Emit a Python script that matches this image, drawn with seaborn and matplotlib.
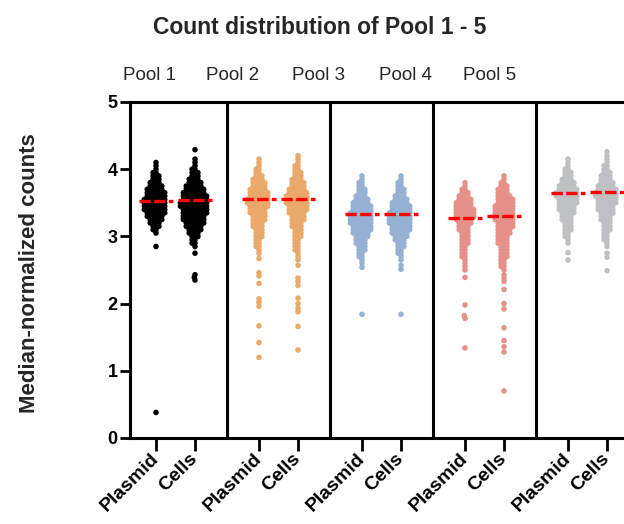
import warnings
warnings.filterwarnings("ignore")
import numpy as np
import pandas as pd
import matplotlib
matplotlib.use("Agg")
import matplotlib.pyplot as plt
import seaborn as sns

# ---------------- data ----------------
pools = ["Pool 1", "Pool 2", "Pool 3", "Pool 4", "Pool 5"]
samples = ["Plasmid", "Cells"]
pool_colors = ["#000000", "#EAA86A", "#97B1D4", "#E5918A", "#BEC0C2"]
bin_step = 0.05

# dense body of each swarm: lowest value + number of dots in each 0.05 row
p1_plasmid_lo = 3.05
p1_plasmid_counts = [1, 2, 3, 4, 5, 6, 7, 8, 8, 8, 8, 7, 7, 6, 5, 4, 3, 3, 2, 1, 1, 1]
p1_plasmid_out = [2.85, 0.38]
p1_cells_lo = 2.85
p1_cells_counts = [1, 2, 2, 3, 4, 5, 6, 7, 8, 8, 9, 9, 10, 10, 9, 9, 8, 7, 6, 5, 4, 3, 3, 2, 1, 1, 1]
p1_cells_out = [4.29, 2.75, 2.43, 2.39, 2.35]

p2_plasmid_lo = 2.75
p2_plasmid_counts = [1, 1, 2, 2, 2, 3, 3, 3, 4, 4, 5, 5, 6, 6, 7, 8, 8, 7, 7, 6, 5, 5, 4, 3, 2, 2, 1, 1, 1]
p2_plasmid_out = [2.67, 2.46, 2.41, 2.30, 2.07, 2.02, 1.96, 1.67, 1.42, 1.20]
p2_cells_lo = 2.65
p2_cells_counts = [1, 1, 1, 2, 2, 2, 2, 3, 3, 3, 4, 4, 5, 5, 6, 7, 7, 8, 8, 8, 7, 6, 5, 5, 4, 3, 3, 2, 2, 1, 1, 1]
p2_cells_out = [2.57, 2.38, 2.33, 2.27, 2.08, 2.00, 1.93, 1.88, 1.66, 1.31]

p3_plasmid_lo = 2.60
p3_plasmid_counts = [1, 1, 2, 2, 3, 3, 4, 4, 5, 6, 7, 7, 8, 8, 8, 8, 7, 7, 6, 5, 4, 3, 3, 2, 2, 1, 1]
p3_plasmid_out = [2.54, 1.84]
p3_cells_lo = 2.65
p3_cells_counts = [1, 1, 2, 2, 3, 3, 4, 5, 6, 7, 7, 8, 8, 8, 8, 7, 7, 6, 5, 4, 3, 3, 2, 2, 1, 1]
p3_cells_out = [2.57, 2.51, 1.84]

p4_plasmid_lo = 2.50
p4_plasmid_counts = [1, 1, 1, 1, 2, 2, 2, 2, 3, 3, 3, 3, 4, 4, 5, 6, 7, 7, 7, 6, 6, 5, 4, 3, 2, 1, 1]
p4_plasmid_out = [2.39, 1.98, 1.82, 1.78, 1.34]
p4_cells_lo = 2.50
p4_cells_counts = [1, 2, 2, 2, 3, 3, 3, 3, 4, 4, 4, 5, 5, 6, 6, 7, 7, 7, 7, 7, 6, 6, 5, 4, 4, 3, 2, 1, 1]
p4_cells_out = [2.43, 2.38, 2.33, 2.21, 2.00, 1.92, 1.64, 1.45, 1.36, 1.28, 0.70]

p5_plasmid_lo = 2.90
p5_plasmid_counts = [1, 1, 2, 2, 3, 3, 3, 4, 4, 5, 6, 6, 7, 7, 8, 8, 7, 6, 5, 4, 3, 3, 2, 1, 1, 1]
p5_plasmid_out = [2.76, 2.65]
p5_cells_lo = 2.85
p5_cells_counts = [1, 1, 2, 2, 2, 3, 3, 3, 4, 4, 5, 6, 6, 7, 7, 8, 8, 7, 6, 5, 4, 4, 3, 2, 2, 1, 1, 1]
p5_cells_out = [2.75, 2.69, 2.49, 4.26]

# medians (red dashed lines), order: P1 plasmid, P1 cells, P2 plasmid, ...
medians = [3.53, 3.54, 3.55, 3.56, 3.33, 3.33, 3.28, 3.30, 3.65, 3.66]

groups = [
    (p1_plasmid_lo, p1_plasmid_counts, p1_plasmid_out), (p1_cells_lo, p1_cells_counts, p1_cells_out),
    (p2_plasmid_lo, p2_plasmid_counts, p2_plasmid_out), (p2_cells_lo, p2_cells_counts, p2_cells_out),
    (p3_plasmid_lo, p3_plasmid_counts, p3_plasmid_out), (p3_cells_lo, p3_cells_counts, p3_cells_out),
    (p4_plasmid_lo, p4_plasmid_counts, p4_plasmid_out), (p4_cells_lo, p4_cells_counts, p4_cells_out),
    (p5_plasmid_lo, p5_plasmid_counts, p5_plasmid_out), (p5_cells_lo, p5_cells_counts, p5_cells_out),
]

# ---------------- layout positions (pixel-like x units) ----------------
pool_span = 103
sample_offset = {"Plasmid": 26, "Cells": 65}

rows = []
xpos = []
for gi, (lo, counts, outs) in enumerate(groups):
    pi, si = divmod(gi, 2)
    x = pi * pool_span + sample_offset[samples[si]]
    xpos.append(x)
    body = np.repeat(np.round(lo + bin_step * np.arange(len(counts)), 3), counts)
    vals = np.concatenate([body, np.array(outs, dtype=float)])
    for v in vals:
        rows.append({"x": x, "value": v, "pool": pools[pi]})
df = pd.DataFrame(rows)

# ---------------- figure ----------------
sns.set_style("ticks")
plt.rcParams["font.family"] = ["Liberation Sans", "DejaVu Sans"]

W, H = 624, 524
fig = plt.figure(figsize=(W / 100, H / 100), dpi=100)
ax = fig.add_axes([130 / W, 1 - 438 / H, (W - 130) / W, (438 - 102) / H])

layout_size = 2.0   # marker size used by the swarm layout
render_size = 4.0   # marker size drawn (dots overlap like the original)

sns.swarmplot(data=df, x="x", y="value", hue="pool", hue_order=pools,
              palette=dict(zip(pools, pool_colors)), native_scale=True,
              size=layout_size, linewidth=0, legend=False, ax=ax, zorder=3)

ax.set_xlim(0, W - 130)
ax.set_ylim(0, 5)

# medians
for x, m in zip(xpos, medians):
    ax.hlines(m, x - 17, x + 17, colors="#FF0000", lw=2.4,
              linestyles=(0, (3.4, 1.0)), zorder=5)

# dividers between pools
for pi in range(1, len(pools)):
    ax.axvline(pi * pool_span - 6, color="black", lw=2.2, zorder=4)

for side in ["left", "bottom", "top"]:
    ax.spines[side].set_linewidth(2.2)
    ax.spines[side].set_color("black")
ax.spines["right"].set_visible(False)

ax.set_yticks([0, 1, 2, 3, 4, 5])
ax.set_yticklabels(["0", "1", "2", "3", "4", "5"], fontsize=13, fontweight="bold")
ax.set_xticks(xpos)
ax.set_xticklabels([samples[i % 2] for i in range(len(xpos))], fontsize=14,
                   fontweight="bold", rotation=45, ha="right", va="center",
                   rotation_mode="anchor")
ax.tick_params(axis="y", length=7, width=2, pad=2, colors="black")
ax.tick_params(axis="x", length=9, width=2, pad=4, colors="black")
ax.set_xlabel("")
ax.set_ylabel("")

fig.text(30 / W, 1 - 273 / H, "Median-normalized counts", rotation=90,
         ha="center", va="center", fontsize=16, fontweight="bold")
fig.text(320 / W, 1 - 27 / H, "Count distribution of Pool 1 - 5",
         ha="center", va="center", fontsize=16.5, fontweight="bold")
for name, cx in zip(pools, [149.5, 233, 319, 405.5, 490]):
    fig.text(cx / W, 1 - 76 / H, name, ha="center", va="center", fontsize=13.5)

# let seaborn compute the swarm layout once, then freeze it and draw bigger dots
fig.canvas.draw()
for coll in ax.collections:
    if "draw" in coll.__dict__:
        del coll.draw
        coll.set_sizes([render_size ** 2])

fig.savefig("out.png", dpi=100)
